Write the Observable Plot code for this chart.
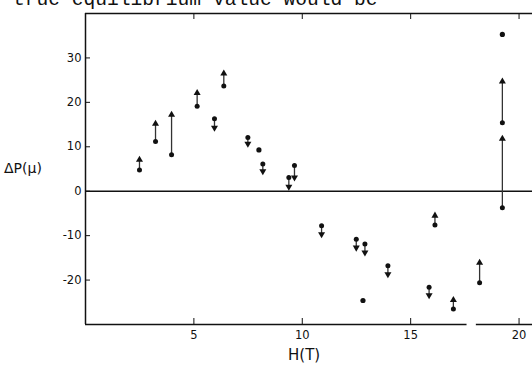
<!DOCTYPE html>
<html>
<head>
<meta charset="utf-8">
<script src="https://cdn.jsdelivr.net/npm/d3@7"></script>
<script src="https://cdn.jsdelivr.net/npm/@observablehq/plot@0.6"></script>
<style>
  html, body { margin: 0; padding: 0; background: #fff; overflow: hidden; }
  #wrap { position: relative; width: 532px; height: 367px; }
  #note { position: absolute; left: 13px; top: -11px; font-family: "Liberation Mono", "DejaVu Sans Mono", monospace; font-size: 19.6px; color: #111; white-space: nowrap; }
  #ylab { position: absolute; left: 4px; top: 160px; font-family: "DejaVu Sans", sans-serif; font-size: 14px; color: #111; }
  #xlab { position: absolute; left: 288px; top: 346px; font-family: "DejaVu Sans", sans-serif; font-size: 15px; color: #111; }
</style>
</head>
<body>
<div id="wrap">
  <div id="chart"></div>
  <div id="note">true equilibrium value would be</div>
  <div id="ylab">ΔP(μ)</div>
  <div id="xlab">H(T)</div>
</div>
<script>
// Field H (T) of each relaxation measurement
const fieldH   = [2.49, 3.23, 3.97, 5.15, 5.95, 6.38, 7.49, 8.18, 9.38, 9.64, 10.89, 12.49, 12.89, 13.95, 15.85, 16.12, 16.97, 18.18, 19.23, 19.23];
// Measured ΔP (dot)
const pStart   = [4.8, 11.2, 8.2, 19.1, 16.3, 23.7, 12.1, 6.1, 3.1, 5.8, -7.8, -10.8, -11.9, -16.8, -21.6, -7.6, -26.5, -20.6, 15.4, -3.7];
// Direction of relaxation (arrow tip)
const pEnd     = [7.1, 15.2, 17.2, 22.1, 14.3, 26.5, 10.7, 4.5, 1.0, 3.1, -9.7, -12.7, -13.8, -18.7, -23.4, -5.5, -24.5, -16.1, 24.7, 11.8];
// Isolated points without arrow
const dotH     = [8.0, 12.8, 19.23];
const dotP     = [9.3, -24.6, 35.3];
// Axes
const yTicks   = [-20, -10, 0, 10, 20, 30];
const xTicks   = [5, 10, 15, 20];
const xDomain  = [0, 20.62];
const yDomain  = [-30, 40];
const axisGap  = [17.6, 18.03];

const arrows = fieldH.map((h, i) => ({h, p0: pStart[i], p1: pEnd[i]}));
const dots = dotH.map((h, i) => ({h, p: dotP[i]}));

const font = "DejaVu Sans, sans-serif";
const chart = Plot.plot({
  width: 532,
  height: 367,
  marginLeft: 85,
  marginRight: 0,
  marginTop: 13,
  marginBottom: 43,
  style: {fontFamily: font, fontSize: "11.5px", color: "#111", background: "white"},
  x: {domain: xDomain},
  y: {domain: yDomain},
  marks: [
    // frame lines
    Plot.ruleX([xDomain[0]], {stroke: "#111", strokeWidth: 1.5}),
    Plot.ruleY([yDomain[1]], {stroke: "#111", strokeWidth: 1.5}),
    Plot.ruleY([yDomain[0]], {x1: xDomain[0], x2: axisGap[0], stroke: "#111", strokeWidth: 1.5}),
    Plot.ruleY([yDomain[0]], {x1: axisGap[1], x2: xDomain[1], stroke: "#111", strokeWidth: 1.5}),
    Plot.ruleY([0], {stroke: "#111", strokeWidth: 1.5}),
    Plot.axisY({ticks: yTicks, tickSize: -5, tickPadding: 9, label: null, tickFormat: d => String(d)}),
    Plot.axisX({ticks: xTicks, tickSize: -6, tickPadding: 12, label: null}),
    Plot.axisX({ticks: xTicks, anchor: "top", tickSize: -5, tickFormat: () => "", label: null}),
    Plot.link(arrows, {x1: "h", y1: "p0", x2: "h", y2: "p1", stroke: "#333", strokeWidth: 1.3}),
    Plot.dot(arrows, {x: "h", y: "p1", symbol: "triangle", r: 2.6, fill: "#111", stroke: null,
      rotate: d => (d.p1 > d.p0 ? 0 : 180)}),
    Plot.dot(arrows, {x: "h", y: "p0", r: 2.5, fill: "#111"}),
    Plot.dot(dots, {x: "h", y: "p", r: 2.6, fill: "#111"})
  ]
});
document.getElementById("chart").appendChild(chart);
</script>
</body>
</html>
